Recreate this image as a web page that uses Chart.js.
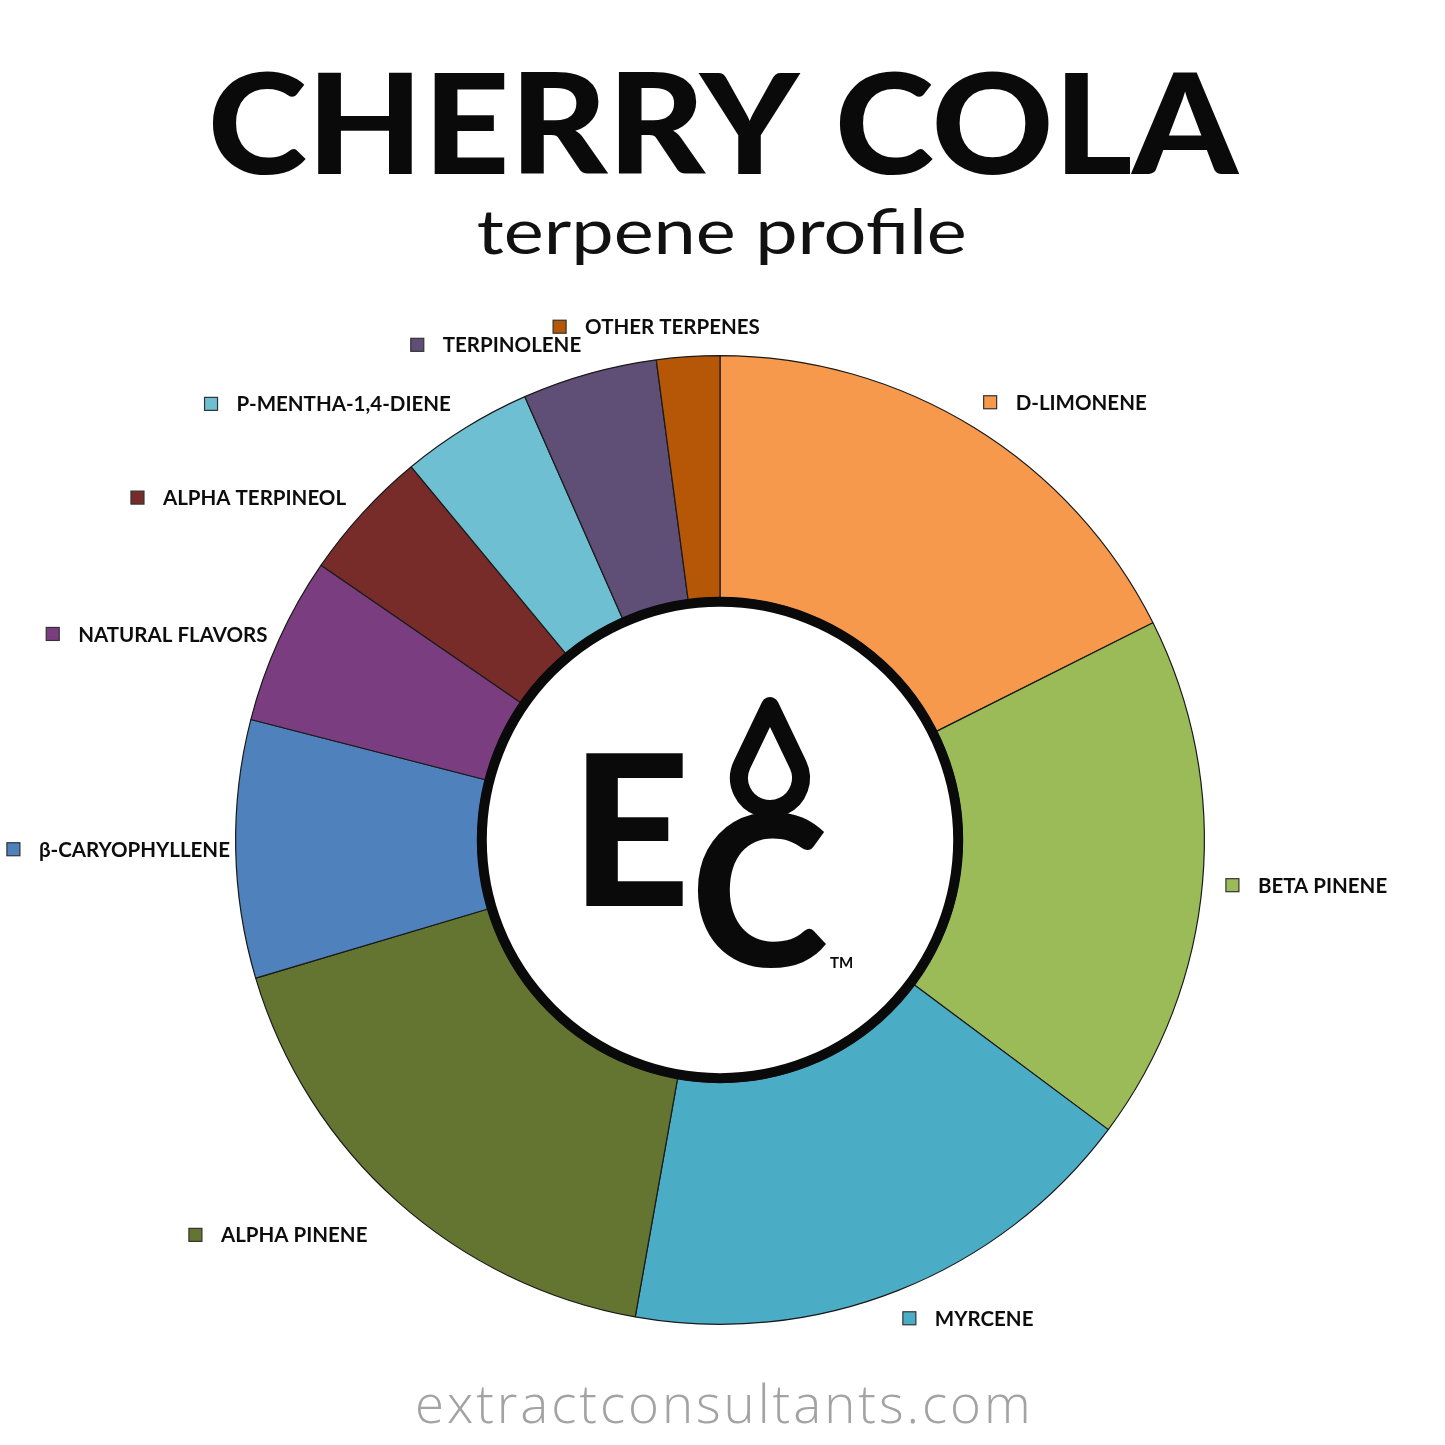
<!DOCTYPE html>
<html>
<head>
<meta charset="utf-8">
<script src="https://cdn.jsdelivr.net/npm/chart.js@4.4.0/dist/chart.umd.min.js"></script>
<style>
  html, body { margin: 0; padding: 0; background: #ffffff; }
  #wrap { position: relative; width: 1445px; height: 1445px; }
  canvas { display: block; }
</style>
</head>
<body>
<div id="wrap"><canvas id="c" width="1445" height="1445"></canvas></div>
<script>
// ---- data ----
const TITLE = 'CHERRY COLA';
const SUBTITLE = 'terpene profile';
const FOOTER = 'extractconsultants.com';
const categories = ['D-LIMONENE', 'BETA PINENE', 'MYRCENE', 'ALPHA PINENE', 'β-CARYOPHYLLENE',
  'NATURAL FLAVORS', 'ALPHA TERPINEOL', 'P-MENTHA-1,4-DIENE', 'TERPINOLENE', 'OTHER TERPENES'];
const shares = [17.6, 17.6, 17.6, 17.6, 8.6, 5.6, 4.4, 4.4, 4.5, 2.1];
const sliceColors = ['#F6994C', '#9BBB59', '#4BACC6', '#647531', '#4F81BD',
  '#7A3E80', '#772C2A', '#6EBFD1', '#5F4E75', '#B65708'];

function fitText(ctx, text, family, weight, left, right, refTop, baseline, refChar, color, mode) {
  const h = baseline - refTop;
  ctx.font = weight + ' 100px ' + family;
  const m0 = ctx.measureText(refChar);
  const size = 100 * h / m0.actualBoundingBoxAscent;
  ctx.font = weight + ' ' + size + 'px ' + family;
  ctx.textBaseline = 'alphabetic';
  ctx.textAlign = 'left';
  const m = ctx.measureText(text);
  const inkW = m.actualBoundingBoxLeft + m.actualBoundingBoxRight;
  ctx.save();
  ctx.fillStyle = color;
  if (mode === 'scale') {
    const sx = (right - left) / inkW;
    ctx.translate(left, baseline);
    ctx.scale(sx, 1);
    ctx.fillText(text, m.actualBoundingBoxLeft, 0);
  } else {
    const sp = ((right - left) - inkW) / (text.length - 1);
    ctx.letterSpacing = sp + 'px';
    ctx.fillText(text, left + m.actualBoundingBoxLeft, baseline);
  }
  ctx.restore();
}

function fitBox(ctx, text, family, weight, left, right, top, bottom, color) {
  ctx.font = weight + ' 100px ' + family;
  ctx.textBaseline = 'alphabetic';
  ctx.textAlign = 'left';
  const m0 = ctx.measureText(text);
  const inkH = m0.actualBoundingBoxAscent + m0.actualBoundingBoxDescent;
  const inkW = m0.actualBoundingBoxLeft + m0.actualBoundingBoxRight;
  const sy = (bottom - top) / inkH;
  const sx = (right - left) / inkW;
  ctx.save();
  ctx.fillStyle = color;
  ctx.translate(left, top);
  ctx.scale(sx, sy);
  ctx.fillText(text, m0.actualBoundingBoxLeft, m0.actualBoundingBoxAscent);
  ctx.restore();
}

const decorPlugin = {
  id: 'decor',
  afterDraw(chart) {
    const ctx = chart.ctx;
    const meta = chart.getDatasetMeta(0);
    const arcs = meta.data;
    if (!arcs.length) return;
    const a0 = arcs[0].getProps(['x', 'y', 'innerRadius', 'outerRadius'], true);
    const cx = a0.x, cy = a0.y, R = a0.outerRadius, r = a0.innerRadius;

    // titles
    fitText(ctx, TITLE, 'Lato', '900', 212, 1240, 73, 174, 'H', '#0a0a0a', 'scale');
    fitText(ctx, SUBTITLE, 'Lato', '400', 478, 965, 222, 254, 'x', '#111111', 'scale');
    fitText(ctx, FOOTER, '"Open Sans"', '300', 418, 1027, 1395, 1423, 'x', '#a3a3a3', 'spacing');

    // inner ring
    ctx.save();
    ctx.beginPath();
    ctx.arc(cx, cy, r - 4, 0, Math.PI * 2);
    ctx.fillStyle = '#ffffff';
    ctx.fill();
    ctx.lineWidth = 10;
    ctx.strokeStyle = '#0a0a0a';
    ctx.stroke();
    ctx.restore();

    // logo
    fitBox(ctx, 'E', 'Lato', '900', cx - 135, cx - 37, cy - 85, cy + 66, '#0a0a0a');
    fitBox(ctx, 'C', 'Lato', '900', cx - 23, cx + 108, cy - 27, cy + 128, '#0a0a0a');
    // droplet
    ctx.save();
    const dx = cx + 50, dTipY = cy - 134, dcy = cy - 62, dr = 31;
    const d = dcy - dTipY;
    const phi = Math.acos(dr / d);
    ctx.beginPath();
    ctx.moveTo(dx, dTipY);
    ctx.arc(dx, dcy, dr, -Math.PI / 2 + phi, -Math.PI / 2 - phi + Math.PI * 2, false);
    ctx.closePath();
    ctx.lineWidth = 18;
    ctx.lineJoin = 'round';
    ctx.strokeStyle = '#0a0a0a';
    ctx.stroke();
    ctx.restore();
    ctx.save();
    ctx.font = '700 15px Lato';
    ctx.fillStyle = '#0a0a0a';
    ctx.textBaseline = 'alphabetic';
    ctx.fillText('TM', cx + 110, cy + 128);
    ctx.restore();

    // labels
    ctx.save();
    ctx.font = '700 20.5px Lato';
    ctx.textBaseline = 'middle';
    ctx.textAlign = 'left';
    arcs.forEach((arc, i) => {
      const p = arc.getProps(['startAngle', 'endAngle'], true);
      const mid = (p.startAngle + p.endAngle) / 2;
      const ux = Math.cos(mid), uy = Math.sin(mid);
      let rad = R + 30;
      if (ux < 0) rad += -25 * Math.pow(ux, 4) + 40 * Math.max(0, uy) * (-ux);
      const ax = cx + ux * rad;
      const ay = cy + uy * rad;
      const frac = Math.max(-1, Math.min(1, ux * 4));
      const t = (1 - frac) / 2;
      const tw = ctx.measureText(categories[i]).width;
      const W = 32 + tw;
      const left = ax - 6.5 - t * (W - 6.5);
      ctx.fillStyle = sliceColors[i];
      ctx.fillRect(left, ay - 6.5, 13, 13);
      ctx.lineWidth = 1.2;
      ctx.strokeStyle = '#333333';
      ctx.strokeRect(left, ay - 6.5, 13, 13);
      ctx.fillStyle = '#0d0d0d';
      ctx.fillText(categories[i], left + 32, ay + 1);
    });
    ctx.restore();
  }
};

function build() {
  new Chart(document.getElementById('c'), {
    type: 'doughnut',
    data: {
      labels: categories,
      datasets: [{
        data: shares,
        backgroundColor: sliceColors,
        borderColor: '#1a1a1a',
        borderWidth: 1.2,
        borderAlign: 'center'
      }]
    },
    options: {
      responsive: false,
      animation: false,
      cutout: '50%',
      layout: { padding: { left: 235, top: 355, right: 240, bottom: 120 } },
      plugins: { legend: { display: false }, tooltip: { enabled: false } }
    },
    plugins: [decorPlugin]
  });
}
if (document.fonts && document.fonts.ready) {
  Promise.all([
    document.fonts.load('900 100px Lato'), document.fonts.load('700 19px Lato'),
    document.fonts.load('400 100px Lato'), document.fonts.load('300 100px "Open Sans"')
  ]).catch(() => {}).then(() => document.fonts.ready).then(build);
} else { build(); }
</script>
</body>
</html>
